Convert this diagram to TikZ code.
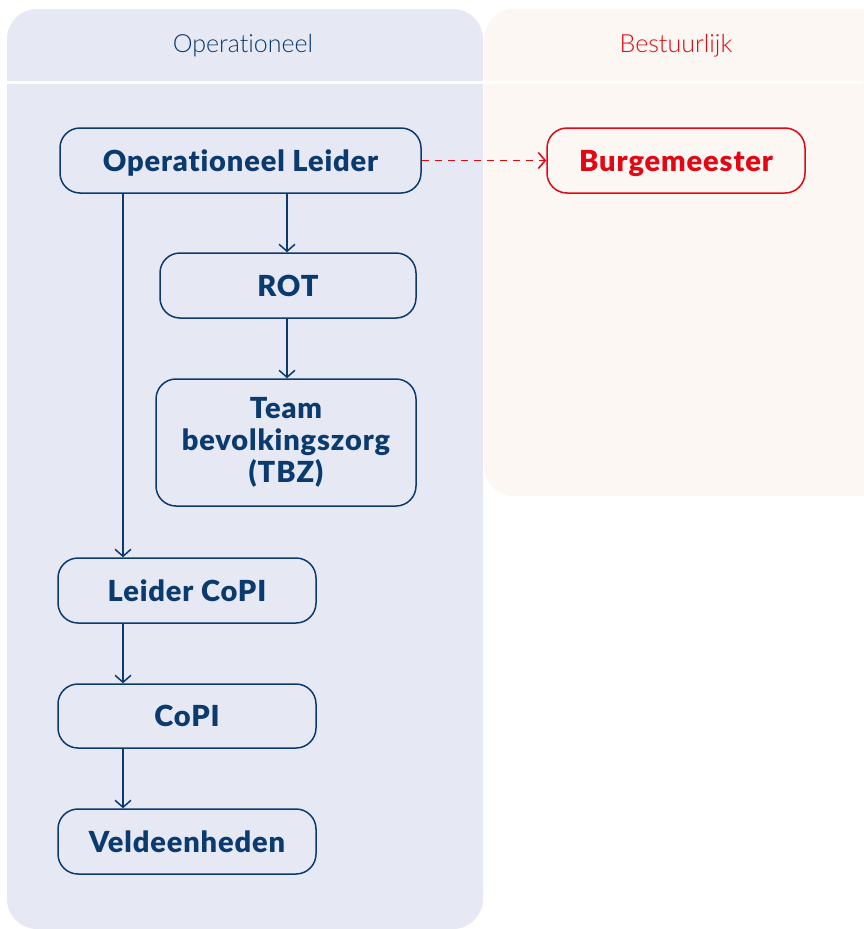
\documentclass[tikz,border=0pt]{standalone}
\usepackage{fontspec}
\setmainfont{Lato}
\usetikzlibrary{arrows.meta}
\definecolor{navy}{HTML}{0B3A6E}
\definecolor{opbg}{HTML}{E6E9F3}
\definecolor{bebg}{HTML}{FCF7F3}
\definecolor{redc}{HTML}{E30613}
\newfontfamily\boxfont[LetterSpace=3,Ligatures={NoCommon}]{Lato Black}
\newfontfamily\headfont[Ligatures={NoCommon}]{Lato Light}
\tikzset{
  box/.style={draw=navy, line width=1.5pt, rounded corners=20pt, fill=opbg, text=navy,
    font=\boxfont\fontsize{29}{32}\selectfont, align=center, inner sep=0pt,
    text height=21pt, text depth=0pt},
  redbox/.style={box, draw=redc, text=redc, fill=bebg},
  conn/.style={draw=navy, line width=1.5pt, -{Straight Barb[length=7pt,width=16pt,line width=1.5pt]}},
  dconn/.style={draw=redc, line width=1.5pt, dash pattern=on 7pt off 6pt, -{Straight Barb[length=7pt,width=16pt,line width=1.5pt]}},
  head/.style={font=\headfont\fontsize{25}{30}\selectfont, inner sep=0pt}
}
\begin{document}
\begin{tikzpicture}[x=1pt,y=-1pt]
\useasboundingbox (0,0) rectangle (863,929);
\fill[white] (0,0) rectangle (863,929);
% panels
\fill[bebg, rounded corners=30pt] (484,9) rectangle (893,496);
\fill[opbg, rounded corners=30pt] (7,9) rectangle (483,929);
\fill[white] (7,81) rectangle (863,83.5);
\node[head, text=navy] (hop) at (243,46) {Operationeel};
\node[head, text=redc] (hbe) at (676,46) {Bestuurlijk};
% nodes
\node[box, minimum width=361pt, minimum height=65pt] (ol) at (240.5,160.5) {Operationeel Leider};
\node[redbox, minimum width=258pt, minimum height=65pt] (bm) at (676,160.5) {Burgemeester};
\node[box, minimum width=256pt, minimum height=65pt] (rot) at (288,285.5) {ROT};
\node[box, text height={}, text depth={}, minimum width=260pt, minimum height=127pt] (tbz) at (286,442.5) {Team\\bevolkingszorg\\(TBZ)};
\node[box, minimum width=258pt, minimum height=65pt] (lc) at (187,590.5) {Leider CoPI};
\node[box, minimum width=258pt, minimum height=64pt] (copi) at (187,716) {CoPI};
\node[box, minimum width=258pt, minimum height=65pt] (ve) at (187,841.5) {Veldeenheden};
% connectors
\draw[conn] (ol.south -| rot.north) ++(-1,0) coordinate (a1) -- (a1 |- rot.north);
\draw[conn] (rot.south) ++(-1,0) coordinate (a2) -- (a2 |- tbz.north);
\coordinate (c1) at (123,193);
\draw[conn] (c1 |- ol.south) -- (c1 |- lc.north);
\draw[conn] (c1 |- lc.south) -- (c1 |- copi.north);
\draw[conn] (c1 |- copi.south) -- (c1 |- ve.north);
\draw[dconn] (ol.east) -- (bm.west);
\end{tikzpicture}
\end{document}
